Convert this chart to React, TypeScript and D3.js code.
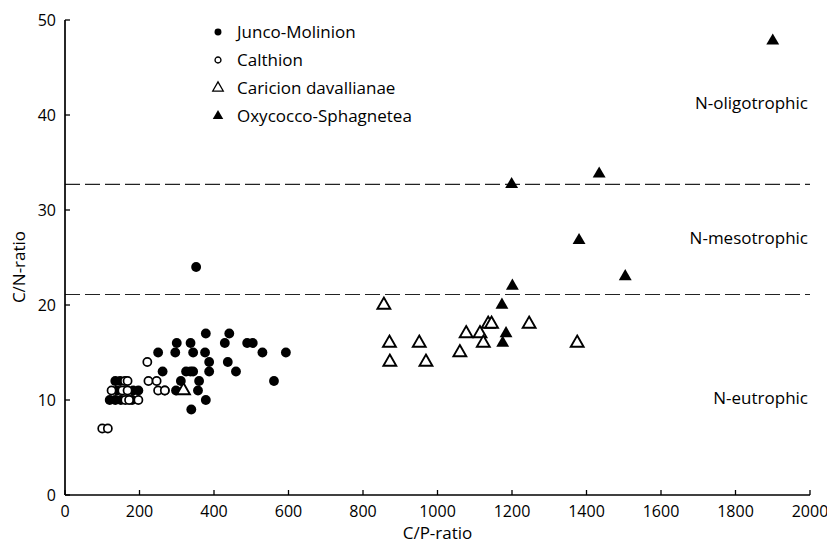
import * as d3 from "d3";
import React from "react";

// C/P-ratio, C/N-ratio pairs
const juncoX = [352, 378, 441, 300, 337, 429, 489, 504, 250, 296, 344, 376, 530, 593, 387, 437, 262, 325, 337, 344, 387, 459, 311, 360, 561, 268, 298, 357, 378, 339, 135, 148, 140, 183, 197, 120, 135, 150, 180];
const juncoY = [24, 17, 17, 16, 16, 16, 16, 16, 15, 15, 15, 15, 15, 15, 14, 14, 13, 13, 13, 13, 13, 13, 12, 12, 12, 11, 11, 11, 10, 9, 12, 12, 11, 11, 11, 10, 10, 10, 10];

const calthionX = [161, 168, 125, 154, 168, 162, 172, 197, 224, 246, 250, 268, 221, 100, 115];
const calthionY = [12, 12, 11, 11, 11, 10, 10, 10, 12, 12, 11, 11, 14, 7, 7];

const caricionX = [856, 1136, 1145, 1246, 1077, 1114, 871, 951, 1123, 1375, 1060, 872, 969, 318];
const caricionY = [20, 18, 18, 18, 17, 17, 16, 16, 16, 16, 15, 14, 14, 11];

const oxyX = [1900, 1199, 1434, 1380, 1504, 1201, 1173, 1184, 1175];
const oxyY = [47.8, 32.7, 33.8, 26.8, 23, 22, 20, 17, 16];

const xTicks = [0, 200, 400, 600, 800, 1000, 1200, 1400, 1600, 1800, 2000];
const yTicks = [0, 10, 20, 30, 40, 50];

const boundaries = [32.7, 21.1];
const zones = [
  { label: "N-oligotrophic", y: 41.3 },
  { label: "N-mesotrophic", y: 27 },
  { label: "N-eutrophic", y: 10.2 },
];

const legendNames = ["Junco-Molinion", "Calthion", "Caricion davallianae", "Oxycocco-Sphagnetea"];

const font = "'Open Sans', sans-serif";

export default function App() {
  const width = 827;
  const height = 544;
  const x = d3.scaleLinear().domain([0, 2000]).range([65, 810]);
  const y = d3.scaleLinear().domain([0, 50]).range([495, 20]);

  const circle = d3.symbol(d3.symbolCircle, 76)();
  const tri = d3.symbol(d3.symbolTriangle, 72)();
  const circleSmall = d3.symbol(d3.symbolCircle, 38)();
  const triSmall = d3.symbol(d3.symbolTriangle, 48)();

  const series = [
    { xs: juncoX, ys: juncoY, path: circle, fill: "#000", stroke: "none", sw: 0 },
    { xs: calthionX, ys: calthionY, path: d3.symbol(d3.symbolCircle, 52)(), fill: "#fff", stroke: "#000", sw: 1.7 },
    { xs: caricionX, ys: caricionY, path: tri, fill: "#fff", stroke: "#000", sw: 1.9 },
    { xs: oxyX, ys: oxyY, path: tri, fill: "#000", stroke: "none", sw: 0 },
  ];
  const legendMarks = [
    { path: circleSmall, fill: "#000", stroke: "none" },
    { path: d3.symbol(d3.symbolCircle, 28)(), fill: "#fff", stroke: "#000" },
    { path: triSmall, fill: "#fff", stroke: "#000" },
    { path: triSmall, fill: "#000", stroke: "none" },
  ];

  return (
    <svg width={width} height={height} style={{ position: "absolute", left: 0, top: 0, background: "#fff" }} fontFamily={font} fill="#000">
      {/* boundary lines */}
      {boundaries.map((b, i) => (
        <line key={i} x1={x(0)} x2={x(2000)} y1={y(b)} y2={y(b)} stroke="#222" strokeWidth={1.1} strokeDasharray="15,5" />
      ))}

      {/* axes */}
      <line x1={x(0)} x2={x(0)} y1={y(0)} y2={y(50)} stroke="#000" strokeWidth={1.7} />
      <line x1={x(0)} x2={x(2000)} y1={y(0)} y2={y(0)} stroke="#000" strokeWidth={1.7} />
      {yTicks.map(t => (
        <g key={t}>
          <line x1={x(0)} x2={x(0) + 5} y1={y(t)} y2={y(t)} stroke="#000" strokeWidth={1.3} />
          <text x={x(0) - 9} y={y(t)} dy="0.35em" textAnchor="end" fontSize={16}>{t}</text>
        </g>
      ))}
      {xTicks.map(t => (
        <g key={t}>
          <line x1={x(t)} x2={x(t)} y1={y(0)} y2={y(0) - 5} stroke="#000" strokeWidth={1.3} />
          <text x={x(t)} y={y(0) + 22} textAnchor="middle" fontSize={16}>{t}</text>
        </g>
      ))}
      <text x={x(1000)} y={539} textAnchor="middle" fontSize={17}>C/P-ratio</text>
      <text transform={`translate(25,${y(24)}) rotate(-90)`} textAnchor="middle" fontSize={17}>C/N-ratio</text>

      {/* zone labels */}
      {zones.map(z => (
        <text key={z.label} x={808} y={y(z.y)} dy="0.35em" textAnchor="end" fontSize={17}>{z.label}</text>
      ))}

      {/* points */}
      {series.map((s, si) => (
        <g key={si}>
          {s.xs.map((v, i) => (
            <path key={i} d={s.path!} transform={`translate(${x(v)},${y(s.ys[i])})`} fill={s.fill} stroke={s.stroke} strokeWidth={s.sw} />
          ))}
        </g>
      ))}

      {/* legend */}
      {legendNames.map((n, i) => (
        <g key={n} transform={`translate(218,${32 + i * 28})`}>
          <path d={legendMarks[i].path!} fill={legendMarks[i].fill} stroke={legendMarks[i].stroke} strokeWidth={1.3} />
          <text x={19} dy="0.35em" fontSize={17}>{n}</text>
        </g>
      ))}
    </svg>
  );
}
